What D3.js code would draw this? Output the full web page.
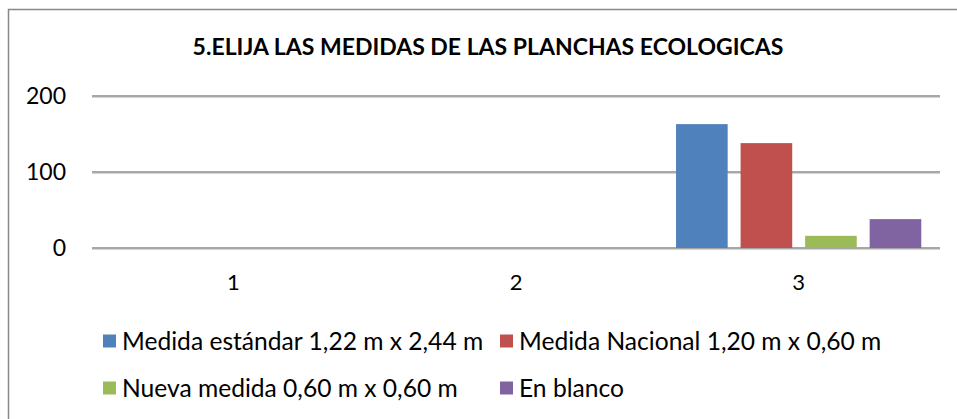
<!DOCTYPE html>
<html>
<head>
<meta charset="utf-8">
<script src="https://cdn.jsdelivr.net/npm/d3@7"></script>
<style>
  body { margin: 0; background: #fff; }
  svg { display: block; font-family: Lato, "Open Sans", sans-serif; }
</style>
</head>
<body>
<svg id="chart" width="957" height="419"></svg>
<script>
// data
const title = "5.ELIJA LAS MEDIDAS DE LAS PLANCHAS ECOLOGICAS";
const categories = ["1", "2", "3"];
const seriesNames = [
  "Medida estándar 1,22 m x 2,44 m",
  "Medida Nacional 1,20 m x 0,60 m",
  "Nueva medida 0,60 m x 0,60 m",
  "En blanco"
];
const estandar = [0, 0, 163];
const nacional = [0, 0, 138];
const nueva = [0, 0, 16];
const blanco = [0, 0, 38];
const yTicks = [0, 100, 200];
const colors = ["#4F81BD", "#C0504D", "#9BBB59", "#8064A2"];

const seriesValues = [estandar, nacional, nueva, blanco];

const svg = d3.select("#chart");
const plot = { left: 92, right: 940, top: 96, bottom: 248 };

// outer frame (runs off the right and bottom edge)
svg.append("rect")
  .attr("x", 8.5).attr("y", 9.5)
  .attr("width", 1100).attr("height", 600)
  .attr("fill", "none")
  .attr("stroke", "#888")
  .attr("stroke-width", 1.5);

svg.append("text")
  .attr("x", 488).attr("y", 55)
  .attr("text-anchor", "middle")
  .attr("font-weight", "bold")
  .attr("font-size", 23)
  .text(title);

const x0 = d3.scaleBand().domain(categories).range([plot.left, plot.right]);
const x1 = d3.scaleBand().domain(seriesNames)
  .range([0, x0.bandwidth()])
  .paddingInner(0.2).paddingOuter(0.29);
const y = d3.scaleLinear().domain([0, 200]).range([plot.bottom, plot.top]);

// gridlines with the light shadow under them
const grid = svg.append("g");
grid.selectAll("line.shadow").data(yTicks).join("line")
  .attr("class", "shadow")
  .attr("x1", plot.left).attr("x2", plot.right)
  .attr("y1", d => y(d) + 1.5).attr("y2", d => y(d) + 1.5)
  .attr("stroke", "#d4d4d4").attr("stroke-width", 1);
grid.selectAll("line.main").data(yTicks).join("line")
  .attr("class", "main")
  .attr("x1", plot.left).attr("x2", plot.right)
  .attr("y1", d => y(d)).attr("y2", d => y(d))
  .attr("stroke", "#8a8a8a").attr("stroke-width", 1.5);

// y axis labels
svg.append("g")
  .attr("transform", `translate(${plot.left},0)`)
  .call(d3.axisLeft(y).tickValues(yTicks).tickSize(0).tickPadding(26))
  .call(g => g.select(".domain").remove())
  .call(g => g.selectAll("text")
    .attr("font-family", "Lato, sans-serif")
    .attr("font-size", 23)
    .attr("fill", "#000"));

// bars
const rows = categories.map((c, i) => ({
  cat: c,
  vals: seriesNames.map((s, j) => ({ s, v: seriesValues[j][i], c: colors[j] }))
}));

svg.append("g").selectAll("g").data(rows).join("g")
  .attr("transform", d => `translate(${x0(d.cat)},0)`)
  .selectAll("rect").data(d => d.vals.filter(e => e.v > 0)).join("rect")
  .attr("x", d => x1(d.s))
  .attr("width", x1.bandwidth())
  .attr("y", d => y(d.v))
  .attr("height", d => y(0) - y(d.v))
  .attr("fill", d => d.c);

// category labels
svg.append("g")
  .attr("transform", `translate(0,${plot.bottom})`)
  .call(d3.axisBottom(x0).tickSize(0).tickPadding(26))
  .call(g => g.select(".domain").remove())
  .call(g => g.selectAll("text")
    .attr("font-family", "Lato, sans-serif")
    .attr("font-size", 22)
    .attr("fill", "#000"));

// legend
const legendPos = [[103, 341], [500, 341], [103, 388], [500, 388]];
const legend = svg.append("g").selectAll("g").data(seriesNames).join("g")
  .attr("transform", (d, i) => `translate(${legendPos[i][0]},${legendPos[i][1]})`);
legend.append("rect")
  .attr("x", 0).attr("y", -6.5)
  .attr("width", 13).attr("height", 13)
  .attr("fill", (d, i) => colors[i]);
legend.append("text")
  .attr("x", 19).attr("y", 0)
  .attr("dy", "0.35em")
  .attr("font-size", 24.6)
  .text(d => d);
</script>
</body>
</html>
